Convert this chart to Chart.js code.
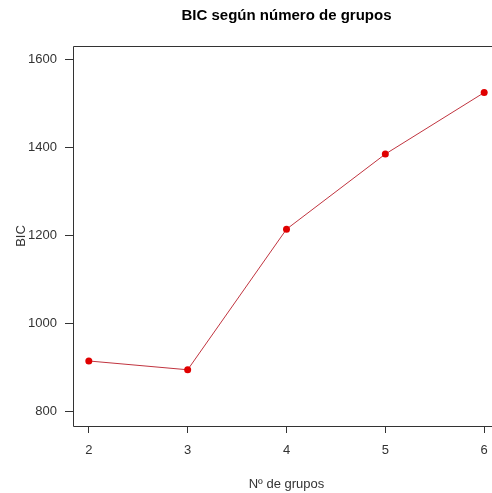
<!DOCTYPE html>
<html>
<head>
<meta charset="utf-8">
<script src="https://cdn.jsdelivr.net/npm/chart.js@4/dist/chart.umd.min.js"></script>
<style>
html,body{margin:0;padding:0;background:#fff;overflow:hidden;width:492px;height:493px;}
#wrap{position:absolute;left:0;top:0;width:520px;height:493px;}
</style>
</head>
<body>
<div id="wrap"><canvas id="c" width="520" height="493"></canvas></div>
<script>
const groups = [2, 3, 4, 5, 6];
const bicValues = [914, 894, 1214, 1385, 1525];
const xTickValues = [2, 3, 4, 5, 6];
const yTickValues = [800, 1000, 1200, 1400, 1600];

const FONT = "'Liberation Sans', Arial, sans-serif";

const boxPlugin = {
  id: 'box',
  afterDraw(chart) {
    const a = chart.chartArea, ctx = chart.ctx;
    const l = Math.round(a.left) + 0.5, t = Math.round(a.top) + 0.5, b = Math.round(a.bottom) + 0.5;
    ctx.save();
    ctx.strokeStyle = '#333';
    ctx.lineWidth = 1;
    ctx.beginPath();
    ctx.moveTo(chart.width, t);
    ctx.lineTo(l, t);
    ctx.lineTo(l, b);
    ctx.lineTo(chart.width, b);
    ctx.stroke();
    ctx.restore();
  }
};

new Chart(document.getElementById('c'), {
  type: 'scatter',
  data: {
    datasets: [{
      data: groups.map((g, i) => ({x: g, y: bicValues[i]})),
      showLine: true,
      borderColor: '#c0343f',
      borderWidth: 1,
      pointRadius: 3.5,
      pointHoverRadius: 3.5,
      pointBackgroundColor: '#e00000',
      pointBorderColor: '#e00000',
      pointBorderWidth: 0
    }]
  },
  options: {
    responsive: false,
    animation: false,
    devicePixelRatio: 1,
    layout: {padding: {left: 0, right: 20, top: 0, bottom: 0}},
    plugins: {
      legend: {display: false},
      tooltip: {enabled: false},
      title: {
        display: true,
        text: 'BIC según número de grupos',
        fullSize: false,
        color: '#000',
        font: {family: FONT, size: 15, weight: 'bold'},
        padding: {top: 7, bottom: 21}
      }
    },
    scales: {
      x: {
        type: 'linear',
        min: 1.84, max: 6.16,
        afterBuildTicks: s => { s.ticks = xTickValues.map(v => ({value: v})); },
        afterFit: s => { s.height = 67; },
        border: {display: false},
        grid: {drawOnChartArea: false, drawTicks: true, tickLength: 7, color: '#333', tickColor: '#333'},
        ticks: {color: '#333', font: {family: FONT, size: 13}, padding: 10, maxRotation: 0, callback: v => String(v)},
        title: {display: true, text: 'Nº de grupos', color: '#333', font: {family: FONT, size: 13}, padding: {top: 4, bottom: 1}}
      },
      y: {
        type: 'linear',
        min: 766, max: 1631,
        afterBuildTicks: s => { s.ticks = yTickValues.map(v => ({value: v})); },
        afterFit: s => { s.width = 73; },
        border: {display: false},
        grid: {drawOnChartArea: false, drawTicks: true, tickLength: 8, color: '#333', tickColor: '#333'},
        ticks: {color: '#333', font: {family: FONT, size: 13}, padding: 8, callback: v => String(v)},
        title: {display: true, text: 'BIC', color: '#333', font: {family: FONT, size: 13}, padding: {top: 14, bottom: 0}}
      }
    }
  },
  plugins: [boxPlugin]
});
</script>
</body>
</html>
